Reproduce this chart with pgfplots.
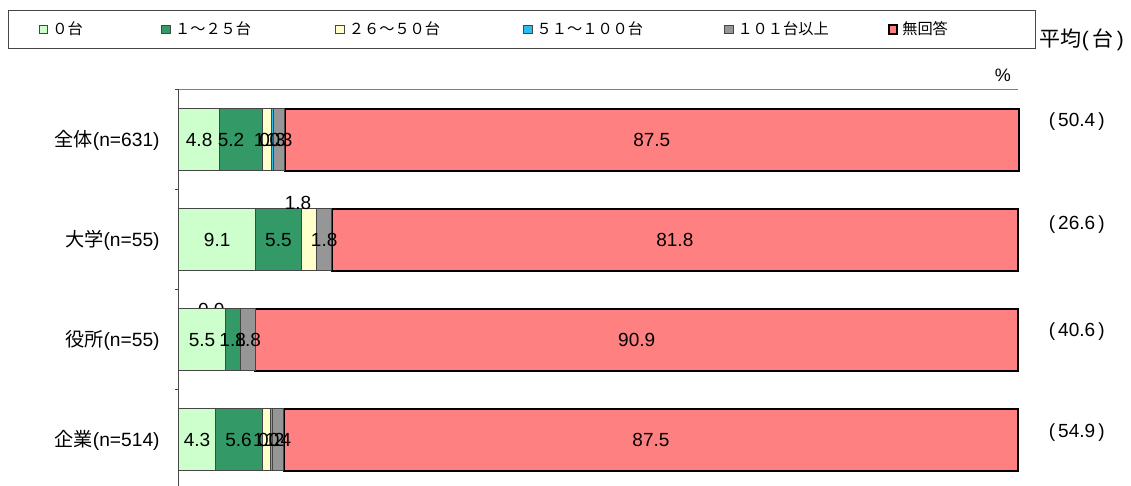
\documentclass[border=0pt]{standalone}
\usepackage{pgfplots}
\pgfplotsset{compat=1.18}
\usepackage{pgfplotstable}
\usepackage{fontspec}
\setmainfont{Liberation Sans}
\newfontfamily\cjk{Noto Sans CJK JP}

\definecolor{cZero}{RGB}{204,255,204}
\definecolor{cLow}{RGB}{51,153,102}
\definecolor{cMid}{RGB}{255,255,204}
\definecolor{cHigh}{RGB}{40,190,240}
\definecolor{cTop}{RGB}{150,150,150}
\definecolor{cNone}{RGB}{255,128,128}
\definecolor{edge}{RGB}{70,70,70}
\definecolor{axisgray}{RGB}{128,128,128}

% y: row (0 = 全体, -1 = 大学, -2 = 役所, -3 = 企業)
% val: share in %; dx, dy: nudge of the value label in pt
\pgfplotstableread{
y   val   dx    dy
0   4.8   0     0
-1  9.1   0     0
-2  5.5   0     0
-3  4.3   0     0
}\tZero
\pgfplotstableread{
y   val   dx    dy
0   5.2   -5    0
-1  5.5   0     0
-2  1.8   0     0
-3  5.6   0     0
}\tLow
\pgfplotstableread{
y   val   dx    dy
0   1.0   0     0
-1  1.8   -5.5  18.5
-2  0.0   0     0
-3  1.0   0     0
}\tMid
\pgfplotstableread{
y   val   dx    dy
0   0.3   0     0
-1  0.0   0     0
-2  0.0   0     0
-3  0.2   0     0
}\tHigh
\pgfplotstableread{
y   val   dx    dy
0   1.3   0     0
-1  1.8   0     0
-2  1.8   0     0
-3  1.4   0     0
}\tTop
\pgfplotstableread{
y   val   dx    dy
0   87.5  0     0
-1  81.8  0     0
-2  90.9  0     0
-3  87.5  0     0
}\tNone

\begin{document}
\begin{tikzpicture}
\begin{axis}[
  set layers,
  xbar stacked,
  scale only axis,
  width=419.5pt, height=198pt,
  xmin=0, xmax=100,
  ymin=-3.46, ymax=0.5,
  clip=false,
  bar width=31pt,
  axis line style={draw=none},
  xtick=\empty,
  ytick={-3,-2,-1,0},
  yticklabels={{\cjk 企業}(n=514),{\cjk 役所}(n=55),{\cjk 大学}(n=55),{\cjk 全体}(n=631)},
  major tick length=0pt,
  extra y ticks={-2.5,-1.5,-0.5,0.5},
  extra y tick labels={},
  extra y tick style={major tick length=2pt, tick align=outside},
  ytick pos=left,
  tick style={draw=edge, line width=0.5pt},
  yticklabel style={font=\fontsize{9.6}{11}\selectfont, inner sep=0pt, xshift=-9.5pt},
  /pgf/number format/assume math mode=true,
  point meta=explicit,
  nodes near coords={\makebox[0pt][c]{\pgfmathprintnumber[fixed,fixed zerofill,precision=1]{\pgfplotspointmeta}}},
  visualization depends on={\thisrow{dx} \as \labdx},
  visualization depends on={\thisrow{dy} \as \labdy},
  every node near coord/.append style={font=\fontsize{9.5}{11}\selectfont,
    text=black, inner sep=0pt,
    xshift={\labdx pt}, yshift={\labdy pt}},
  legend image code/.code={\draw[#1] (0pt,-2.2pt) rectangle (4.4pt,2.2pt);},
  legend columns=6,
  legend cell align=left,
  legend style={at={(rel axis cs:-0.2038,1.202)}, anchor=north west,
    draw=edge, line width=0.5pt, inner xsep=15pt, inner ysep=5.5pt,
    font=\cjk\fontsize{7.6}{9}\selectfont, column sep=0pt,
    nodes={inner sep=0pt}},
]
\addplot[fill=cZero, draw=edge, line width=0.5pt] table[x=val, y=y, meta=val]{\tZero};
\addlegendentry{\makebox[56.5pt][l]{\hspace{2pt}０台}}
\addplot[fill=cLow, draw=edge, line width=0.5pt] table[x=val, y=y, meta=val]{\tLow};
\addlegendentry{\makebox[82pt][l]{\hspace{2pt}１～２５台}}
\addplot[fill=cMid, draw=edge, line width=0.5pt] table[x=val, y=y, meta=val]{\tMid};
\addlegendentry{\makebox[89pt][l]{\hspace{2pt}２６～５０台}}
\addplot[fill=cHigh, draw=edge, line width=0.5pt] table[x=val, y=y, meta=val]{\tHigh};
\addlegendentry{\makebox[95.5pt][l]{\hspace{2pt}５１～１００台}}
\addplot[fill=cTop, draw=edge, line width=0.5pt] table[x=val, y=y, meta=val]{\tTop};
\addlegendentry{\makebox[77pt][l]{\hspace{2pt}１０１台以上}}
\addplot[fill=cNone, draw=black, line width=1pt] table[x=val, y=y, meta=val]{\tNone};
\addlegendentry{\makebox[53.5pt][l]{\hspace{2pt}無回答}}

% axis lines: top and left only
\draw[axisgray, line width=0.5pt] (rel axis cs:0,1) -- (rel axis cs:1,1);
\draw[edge, line width=0.5pt] (rel axis cs:0,0) -- (rel axis cs:0,1);

% labels of the empty (0.0 %) segments, which carry no bar length
\node[on layer=axis foreground, font=\fontsize{9.5}{11}\selectfont, inner sep=0pt] at (axis cs:16.4,-1) {0.0};
\node[on layer=axis foreground, font=\fontsize{9.5}{11}\selectfont, inner sep=0pt, xshift=9pt] at (axis cs:7.3,-2) {0.0};
\node[on layer=axis foreground, font=\fontsize{9.5}{11}\selectfont, inner sep=0pt, xshift=-14.5pt, yshift=15pt] at (axis cs:7.3,-2) {0.0};

% averages per group
\node[font=\fontsize{9.5}{11}\selectfont] at (axis cs:107,0.18)  {(\,50.4\,)};
\node[font=\fontsize{9.5}{11}\selectfont] at (axis cs:107,-0.85) {(\,26.6\,)};
\node[font=\fontsize{9.5}{11}\selectfont] at (axis cs:107,-1.92) {(\,40.6\,)};
\node[font=\fontsize{9.5}{11}\selectfont] at (axis cs:107,-2.93) {(\,54.9\,)};
\node[font=\fontsize{9}{10}\selectfont] at (axis cs:98.2,0.65) {\%};
\node[font=\fontsize{10.5}{12}\selectfont] at (axis cs:107.6,1.0) {{\cjk 平均}(\,{\cjk 台}\,)};

\coordinate (bl) at (rel axis cs:0,0);
\end{axis}
\pgfresetboundingbox
\path[use as bounding box] ([xshift=-89.5pt]bl) rectangle ([xshift=476pt,yshift=243pt]bl);
\end{tikzpicture}
\end{document}
